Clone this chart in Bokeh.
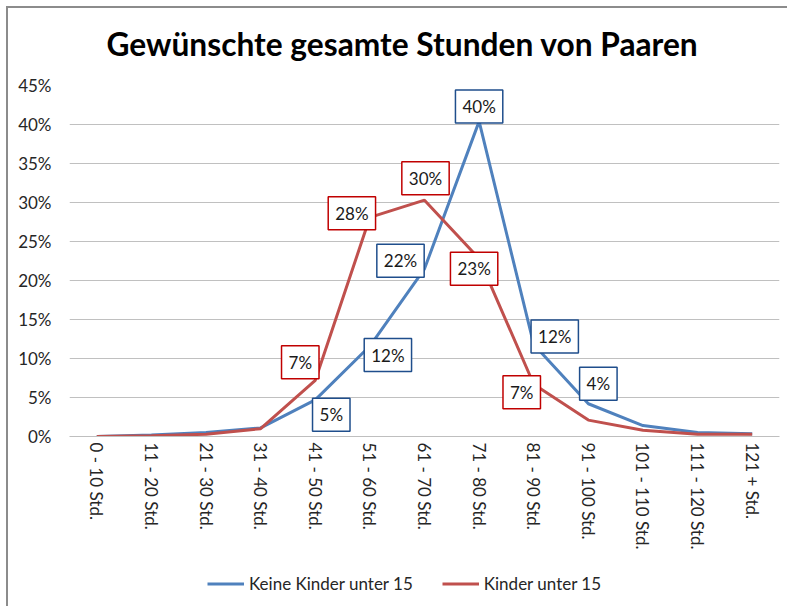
from bokeh.plotting import figure
from bokeh.layouts import column
from bokeh.models import (ColumnDataSource, FactorRange, Range1d, FixedTicker,
                          PrintfTickFormatter, Legend, LegendItem)
from bokeh.embed import file_html
from bokeh.resources import INLINE
from bokeh.core.properties import value

categories = ["0 - 10 Std.", "11 - 20 Std.", "21 - 30 Std.", "31 - 40 Std.",
              "41 -  50 Std.", "51 - 60 Std.", "61 - 70 Std.", "71 - 80 Std.",
              "81 - 90 Std.", "91 - 100 Std.", "101 - 110 Std.", "111 - 120 Std.",
              "121 + Std."]
keine_kinder = [0.0, 0.2, 0.5, 1.1, 4.7, 11.6, 21.5, 40.4, 11.8, 4.2, 1.4, 0.5, 0.35]
kinder = [0.0, 0.1, 0.3, 1.0, 7.2, 28.1, 30.3, 22.8, 6.7, 2.1, 0.8, 0.3, 0.3]
y_ticks = [0, 5, 10, 15, 20, 25, 30, 35, 40, 45]

series_names = ["Keine Kinder unter 15", "Kinder unter 15"]
title_text = "Gewünschte gesamte Stunden von Paaren"

# which points carry a data label, and where the label box sits (pixels)
blue_label_idx = [4, 5, 6, 7, 8, 9]
blue_dx = [16, 18, -24, 0, 21, 10]
blue_dy = [15, 9, -8, -15, -8, -20]
red_label_idx = [4, 5, 6, 7, 8]
red_dx = [-15, -18, 1, -5, -12]
red_dy = [-18, -4, -22, 10, 8]

BLUE = "#4F81BD"
RED = "#C0504D"
FONT = "Lato"
TXT = "#262626"
W = 779

# ---- title strip (frames are aligned with the chart frame by the column) ----
pt = figure(width=W, height=58, x_range=Range1d(69, 779), y_range=Range1d(0, 58),
            x_axis_type=None, y_axis_type=None, output_backend="svg",
            toolbar_location=None, min_border=0)
pt.outline_line_color = None
pt.grid.visible = False
pt.text(x=[402], y=[23], text=[title_text], text_align="center",
        text_baseline="middle", text_font=value(FONT), text_font_style="bold",
        text_font_size="31.7px", text_color="#000000")

# ---- main chart ----
p = figure(width=W, height=508, x_range=FactorRange(*categories, range_padding=0),
           y_range=Range1d(0, 45), output_backend="svg", toolbar_location=None,
           min_border_left=61, min_border_right=8,
           min_border_top=19, min_border_bottom=138)
p.outline_line_color = None
p.background_fill_color = "white"
p.border_fill_color = "white"

p.xgrid.grid_line_color = None
p.ygrid.grid_line_color = "#C0C0C0"
p.ygrid.grid_line_width = 1
p.ygrid.ticker = FixedTicker(ticks=y_ticks)

p.yaxis.ticker = FixedTicker(ticks=y_ticks)
p.yaxis.formatter = PrintfTickFormatter(format="%d%%")
p.yaxis.axis_line_color = None
p.yaxis.major_tick_line_color = None
p.yaxis.minor_tick_line_color = None
p.yaxis.major_label_text_font = FONT
p.yaxis.major_label_text_font_size = "17px"
p.yaxis.major_label_text_color = TXT
p.yaxis.major_label_standoff = 12

p.xaxis.axis_line_color = "#BFBFBF"
p.xaxis.axis_line_width = 1
p.xaxis.major_tick_line_color = None
p.xaxis.minor_tick_line_color = None
p.xaxis.major_label_orientation = "vertical"
p.xaxis.major_label_text_font = FONT
p.xaxis.major_label_text_font_size = "17px"
p.xaxis.major_label_text_color = TXT
p.xaxis.major_label_standoff = 0

src = ColumnDataSource(dict(x=categories, keine=keine_kinder, kinder=kinder))
p.line("x", "keine", source=src, line_color=BLUE, line_width=3)
p.line("x", "kinder", source=src, line_color=RED, line_width=3)

def label_source(idx, vals, dx, dy):
    return ColumnDataSource(dict(
        x=[categories[i] for i in idx],
        y=[vals[i] for i in idx],
        t=["%d%%" % round(vals[i]) for i in idx],
        dx=dx, dy=dy))

for idx, vals, dx, dy, col in [
        (blue_label_idx, keine_kinder, blue_dx, blue_dy, "#1F4E8C"),
        (red_label_idx, kinder, red_dx, red_dy, "#C00000")]:
    ls = label_source(idx, vals, dx, dy)
    p.text("x", "y", text="t", source=ls, x_offset="dx", y_offset="dy",
           text_align="center", text_baseline="middle",
           text_font=value(FONT), text_font_size="17px", text_color="#1a1a1a",
           background_fill_color="white", border_line_color=col,
           border_line_width=1.5, padding=(7, 6))

# ---- legend strip ----
pl = figure(width=W, height=32, x_range=Range1d(0, 1), y_range=Range1d(0, 1),
            x_axis_type=None, y_axis_type=None, output_backend="svg",
            toolbar_location=None, min_border=0)
pl.outline_line_color = None
pl.grid.visible = False
# renderers that only lend their line style to the legend (kept out of view)
lb = pl.line(x=[-5, -4], y=[-5, -5], line_color=BLUE, line_width=3)
lr = pl.line(x=[-5, -4], y=[-5, -5], line_color=RED, line_width=3)
legend = Legend(items=[LegendItem(label=series_names[0], renderers=[lb]),
                       LegendItem(label=series_names[1], renderers=[lr])],
                orientation="horizontal", location=(138, 12),
                border_line_color=None, background_fill_alpha=0,
                label_text_font=FONT, label_text_font_size="17px",
                label_text_color=TXT, glyph_width=37, glyph_height=17,
                label_height=17, label_standoff=5,
                spacing=29, padding=0, margin=0)
pl.add_layout(legend, "center")

layout = column(pt, p, pl, spacing=0,
                styles={"margin-left": "6px", "margin-top": "6px",
                        "border-left": "2px solid #8C8C8C",
                        "border-top": "2px solid #8C8C8C"})
open("out.html", "w").write(file_html(layout, INLINE))
